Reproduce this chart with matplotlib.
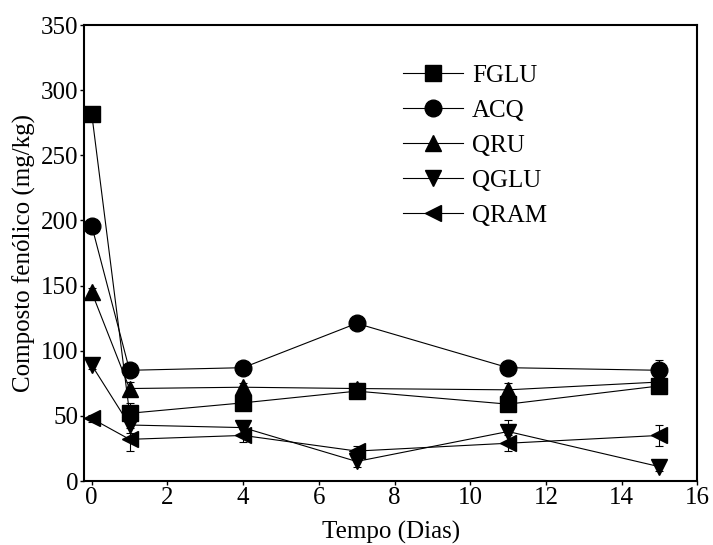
import matplotlib
matplotlib.use("Agg")
import matplotlib.pyplot as plt

plt.rcParams['font.family'] = ['Liberation Serif', 'DejaVu Serif']

dias = [0, 1, 4, 7, 11, 15]
fglu = [282, 52, 60, 69, 59, 73]
acq = [196, 85, 87, 121, 87, 85]
qru = [145, 71, 72, 71, 70, 76]
qglu = [89, 43, 41, 15, 38, 11]
qram = [48, 32, 35, 23, 29, 35]

fglu_err = [3, 8, 5, 3, 4, 3]
acq_err = [3, 4, 3, 3, 3, 8]
qru_err = [3, 5, 3, 4, 5, 3]
qglu_err = [3, 6, 5, 4, 9, 3]
qram_err = [3, 9, 5, 4, 6, 8]

labels = ['FGLU', 'ACQ', 'QRU', 'QGLU', 'QRAM']
series = [fglu, acq, qru, qglu, qram]
errs = [fglu_err, acq_err, qru_err, qglu_err, qram_err]
markers = ['s', 'o', '^', 'v', '<']

fig = plt.figure(figsize=(7.13, 5.45), dpi=100)
ax = fig.add_axes([0.118, 0.1174, 0.86, 0.8366])

for lab, y, e, m in zip(labels, series, errs, markers):
    ax.errorbar(dias, y, yerr=e, marker=m, color='black', ms=12, lw=0.8,
                elinewidth=0.8, capsize=3, capthick=0.8, label=lab)

ax.set_xlim(-0.2, 16)
ax.set_ylim(0, 350)
ax.set_xticks([0, 2, 4, 6, 8, 10, 12, 14, 16])
ax.set_yticks([0, 50, 100, 150, 200, 250, 300, 350])
for s in ax.spines.values():
    s.set_linewidth(1.5)
ax.tick_params(direction='out', length=3, width=1, labelsize=18, pad=1)

ax.set_xlabel('Tempo (Dias)', fontsize=18, labelpad=9)
ax.set_ylabel('Composto fenólico (mg/kg)', fontsize=18, labelpad=4)

handles, labs = ax.get_legend_handles_labels()
handles = [h[0] for h in handles]
ax.legend(handles, labs, loc='upper left', bbox_to_anchor=(0.52, 0.914),
          frameon=False, fontsize=18, handlelength=2.4, handletextpad=0.36,
          labelspacing=0.5, borderpad=0, borderaxespad=0)

fig.savefig('out.png', dpi=100)
